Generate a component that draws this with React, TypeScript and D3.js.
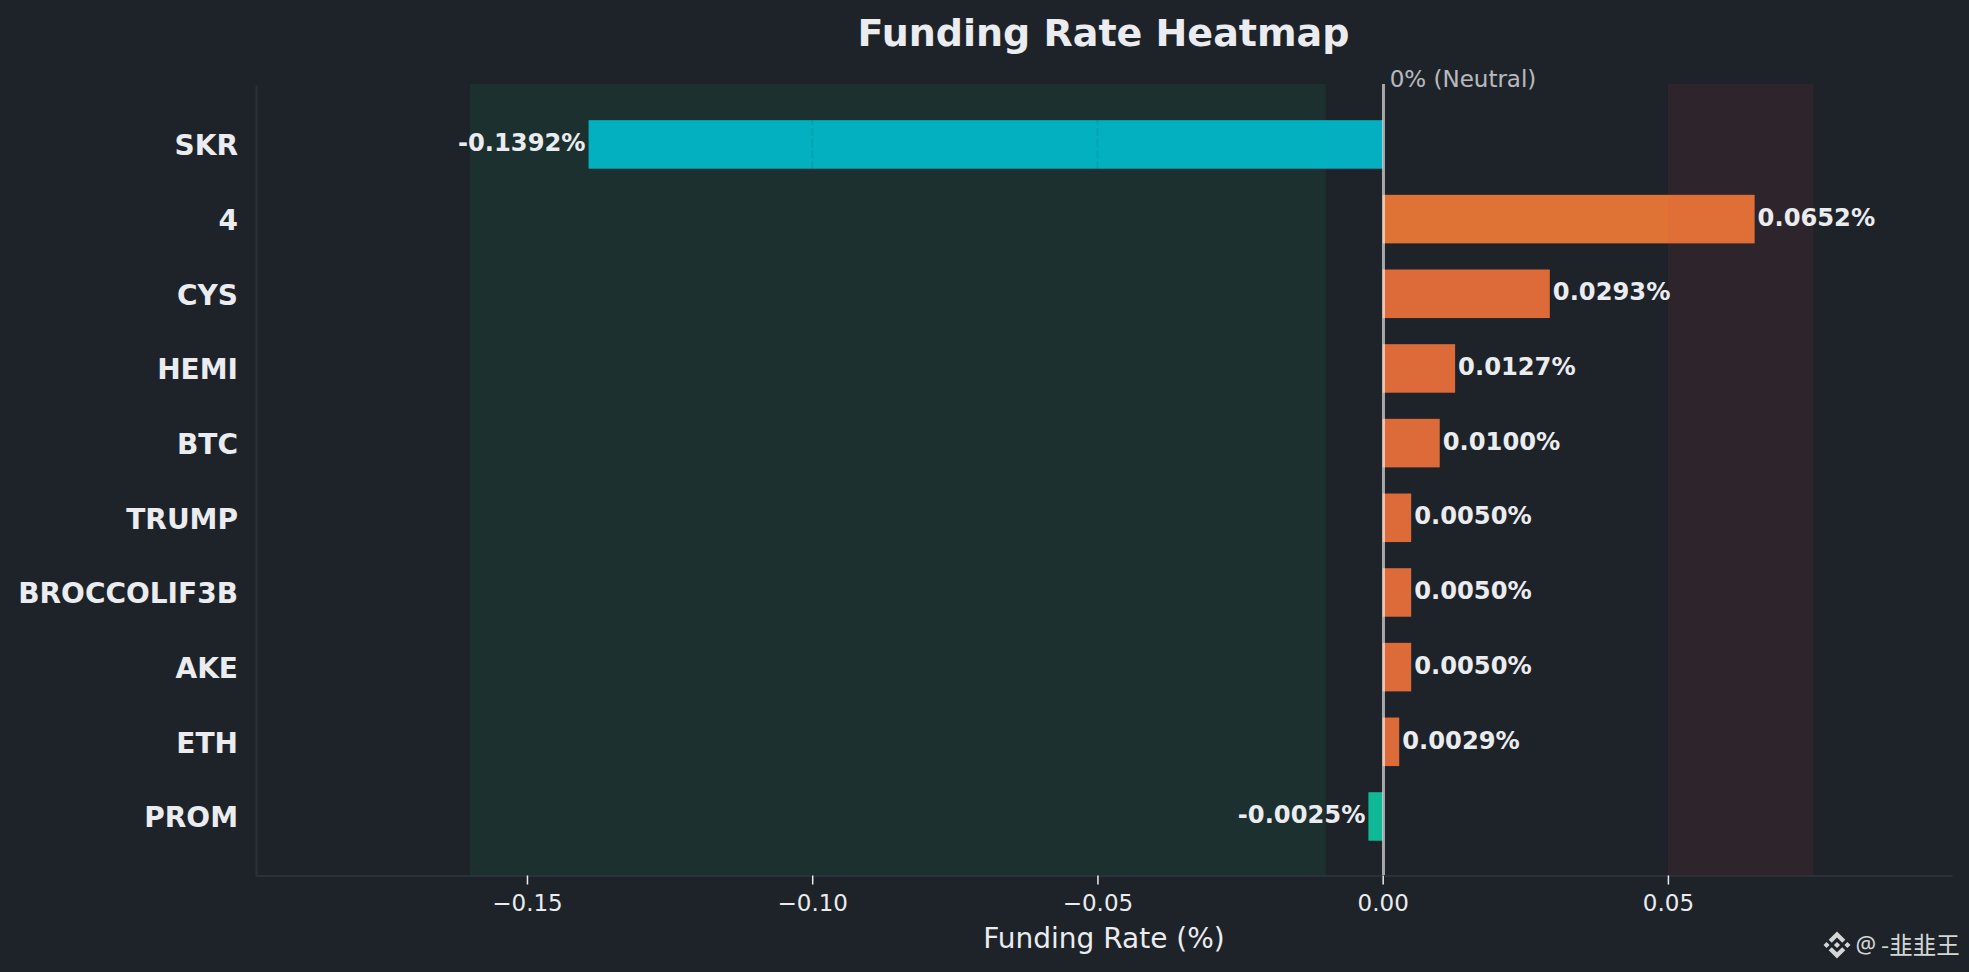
import React, { useEffect, useRef } from 'react';
import * as d3 from 'd3';

// funding rates in %, top to bottom
const symbols = ['SKR', '4', 'CYS', 'HEMI', 'BTC', 'TRUMP', 'BROCCOLIF3B', 'AKE', 'ETH', 'PROM'];
const rates = [-0.1392, 0.0652, 0.0293, 0.0127, 0.01, 0.005, 0.005, 0.005, 0.0029, -0.0025];
const xTicks = [-0.15, -0.1, -0.05, 0, 0.05];
const gridTicks = [-0.15, -0.1, -0.05];
const negativeZone = [-0.16, -0.01];
const positiveZone = [0.05, 0.0755];

const W = 1969;
const H = 972;
const M = { left: 256, right: 1952, top: 84, bottom: 875.5 };
const SANS = '"DejaVu Sans", sans-serif';
const BINANCE_LOGO =
  'M38.73 53.2l24.59-24.58 24.6 24.6 14.3-14.31L63.32 0 24.42 38.9zM0 63.31L14.3 49l14.31 14.31-14.31 14.3zM38.73 73.41l24.59 24.59 24.6-24.6 14.31 14.29-38.9 38.91-38.91-38.88zM98 63.31L112.3 49l14.3 14.3-14.3 14.32zM77.83 63.3L63.32 48.78 52.59 59.51l-1.24 1.23-2.54 2.54 14.51 14.5 14.51-14.47z';

const App: React.FC = () => {
  const svgRef = useRef<SVGSVGElement>(null);

  useEffect(() => {
    if (!svgRef.current) return;
    const svg = d3.select(svgRef.current);
    svg.selectAll('*').remove();

    const x = d3.scaleLinear().domain([-0.1975, 0.0998]).range([M.left, M.right]);
    const y = d3
      .scaleBand<string>()
      .domain(symbols)
      .range([M.top + 0.7, M.bottom + 0.7])
      .paddingInner(0.35)
      .paddingOuter(0.475);
    const color = d3
      .scaleThreshold<number, string>()
      .domain([-0.01, 0, 0.05])
      .range(['#00bfd0', '#0dcaa2', '#f2733c', '#f47c36']);

    svg.append('rect').attr('width', W).attr('height', H).attr('fill', '#1e2329');

    // green zone sits under the bars
    svg.append('rect')
      .attr('x', x(negativeZone[0]))
      .attr('width', x(negativeZone[1]) - x(negativeZone[0]))
      .attr('y', M.top)
      .attr('height', M.bottom - M.top)
      .attr('fill', '#0ecb81')
      .attr('opacity', 0.08);

    // bars
    svg.append('g')
      .selectAll('rect')
      .data(rates)
      .join('rect')
      .attr('x', d => Math.min(x(d), x(0)))
      .attr('width', d => Math.abs(x(d) - x(0)))
      .attr('y', (d, i) => y(symbols[i]) as number)
      .attr('height', y.bandwidth())
      .attr('fill', d => color(d))
      .attr('opacity', 0.9);

    // red zone tints the bar that reaches it
    svg.append('rect')
      .attr('x', x(positiveZone[0]))
      .attr('width', x(positiveZone[1]) - x(positiveZone[0]))
      .attr('y', M.top)
      .attr('height', M.bottom - M.top)
      .attr('fill', '#f6465d')
      .attr('opacity', 0.08);

    // faint grid, only really shows on the cyan bar
    svg.append('g')
      .selectAll('line')
      .data(gridTicks)
      .join('line')
      .attr('x1', d => x(d))
      .attr('x2', d => x(d))
      .attr('y1', M.top)
      .attr('y2', M.bottom)
      .attr('stroke', '#2b3139')
      .attr('stroke-width', 2)
      .attr('stroke-dasharray', '8,3')
      .attr('opacity', 0.1);

    // zero line
    svg.append('line')
      .attr('x1', x(0) + 0.8)
      .attr('x2', x(0) + 0.8)
      .attr('y1', M.top)
      .attr('y2', M.bottom)
      .attr('stroke', '#fff')
      .attr('stroke-width', 3)
      .attr('opacity', 0.6);

    svg.append('text')
      .attr('x', x(0) + 7)
      .attr('y', 87)
      .attr('fill', '#eaecef')
      .attr('opacity', 0.75)
      .attr('font-size', 23)
      .attr('font-family', SANS)
      .text('0% (Neutral)');

    // value labels
    svg.append('g')
      .selectAll('text')
      .data(rates)
      .join('text')
      .attr('x', d => (d < 0 ? x(d) - 3 : x(d) + 3))
      .attr('y', (d, i) => (y(symbols[i]) as number) + y.bandwidth() / 2 - 2)
      .attr('dy', '0.36em')
      .attr('text-anchor', d => (d < 0 ? 'end' : 'start'))
      .attr('fill', '#eaecef')
      .attr('font-size', 24.2)
      .attr('font-weight', 'bold')
      .attr('font-family', SANS)
      .text(d => `${d.toFixed(4)}%`);

    // axes
    const xAxis = svg.append('g')
      .attr('transform', `translate(0,${M.bottom})`)
      .call(
        d3.axisBottom(x)
          .tickValues(xTicks)
          .tickFormat(d3.format('.2f') as any)
          .tickSize(9)
          .tickSizeOuter(0)
          .tickPadding(10)
      );
    xAxis.select('.domain').attr('stroke', '#2b3139').attr('stroke-width', 2);
    xAxis.selectAll('.tick line').attr('stroke', '#eaecef').attr('stroke-width', 1.5);
    xAxis.selectAll('.tick text')
      .attr('fill', '#eaecef')
      .attr('font-size', 23)
      .attr('font-family', SANS);

    const yAxis = svg.append('g')
      .attr('transform', `translate(${M.left},0)`)
      .call(d3.axisLeft(y).tickSize(0).tickPadding(18));
    yAxis.select('.domain').attr('stroke', '#2b3139').attr('stroke-width', 2);
    yAxis.selectAll('.tick text')
      .attr('y', 2)
      .attr('fill', '#eaecef')
      .attr('font-size', 28)
      .attr('font-weight', 'bold')
      .attr('font-family', SANS);

    svg.append('text')
      .attr('x', (M.left + M.right) / 2 - 0.5)
      .attr('y', 46)
      .attr('text-anchor', 'middle')
      .attr('fill', '#eaecef')
      .attr('font-size', 38)
      .attr('font-weight', 'bold')
      .attr('font-family', SANS)
      .text('Funding Rate Heatmap');

    svg.append('text')
      .attr('x', (M.left + M.right) / 2)
      .attr('y', 948)
      .attr('text-anchor', 'middle')
      .attr('fill', '#eaecef')
      .attr('font-size', 28)
      .attr('font-family', SANS)
      .text('Funding Rate (%)');

    // watermark
    const mark = svg.append('g').attr('fill', '#d4d6d8');
    mark.append('path')
      .attr('d', BINANCE_LOGO)
      .attr('transform', 'translate(1823.5,931.5) scale(0.213)');
    mark.append('text')
      .attr('x', 1855.5)
      .attr('y', 953)
      .attr('font-size', 23)
      .attr('font-family', '"Noto Sans", sans-serif')
      .text('@');
    mark.append('text')
      .attr('x', 1881)
      .attr('y', 954)
      .attr('font-size', 23.5)
      .attr('font-family', '"Noto Sans CJK SC", sans-serif')
      .text('-韭韭王');
  }, []);

  return (
    <svg
      ref={svgRef}
      width={W}
      height={H}
      style={{ position: 'absolute', left: 0, top: 0, display: 'block' }}
    />
  );
};

export default App;
